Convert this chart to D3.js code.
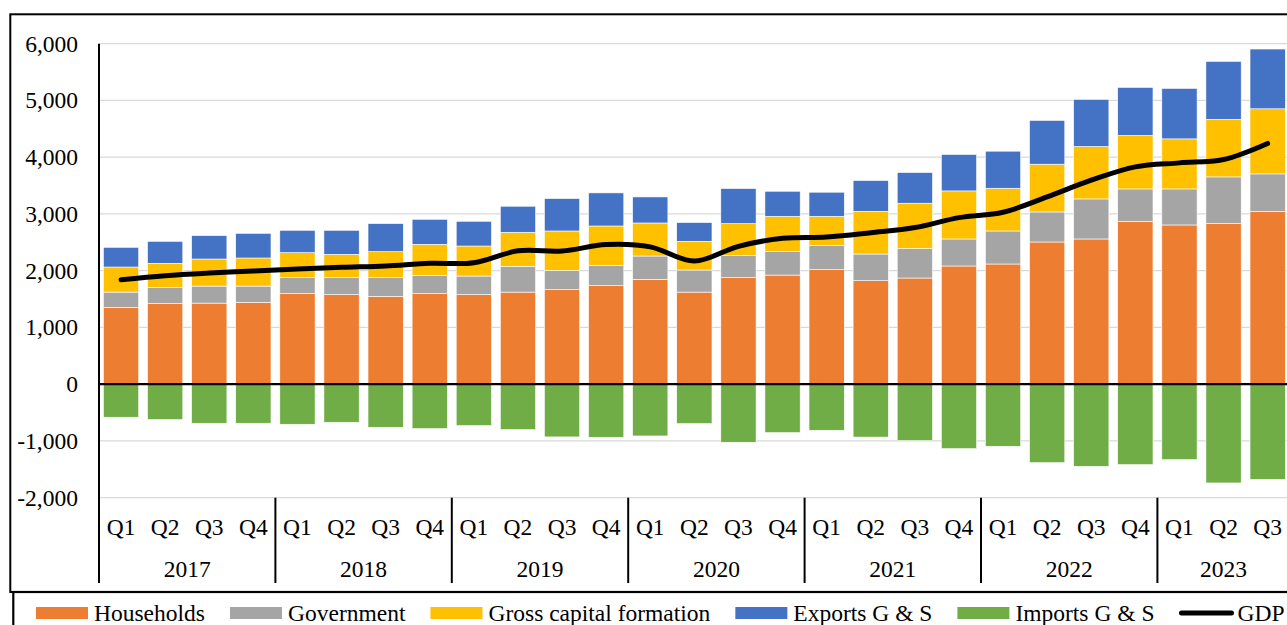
<!DOCTYPE html>
<meta charset="utf-8">
<head>
 <title>GDP by expenditure</title>
</head>

<style>
body { margin: 0; background: #fff; }
text {
 font-family: "Liberation Serif", "Times New Roman", serif;
 font-size: 23.5px;
 fill: #000;
}
</style>

<body>
 <svg width="1287" height="625"></svg>

 <script src="https://cdn.jsdelivr.net/npm/d3@7"></script>
 <script>
// quarterly data
var years = ["2017", "2018", "2019", "2020", "2021", "2022", "2023"]
var quarters = ["Q1", "Q2", "Q3", "Q4"]

var households = [1353, 1419, 1429, 1442, 1595, 1578, 1548, 1595, 1578, 1623, 1666, 1736, 1848, 1623,
  1877, 1923, 2018, 1824, 1871, 2083, 2118, 2506, 2559, 2866, 2806, 2830, 3042]
var government = [270, 282, 300, 287, 282, 299, 329, 323, 328, 454, 340, 359, 411, 389,
  389, 419, 429, 470, 518, 476, 582, 529, 706, 575, 635, 823, 664]
var capital = [442, 429, 477, 495, 441, 412, 459, 547, 529, 600, 694, 693, 582, 506,
  564, 617, 512, 753, 800, 847, 753, 842, 924, 942, 882, 1013, 1147]
var exports = [347, 388, 413, 435, 394, 423, 494, 441, 436, 459, 571, 583, 459, 330,
  618, 441, 424, 542, 541, 642, 653, 771, 830, 847, 889, 1023, 1053]
var imports = [-582, -623, -688, -688, -706, -671, -759, -782, -729, -800, -929, -935, -912, -694,
  -1023, -853, -812, -932, -994, -1135, -1094, -1382, -1447, -1417, -1329, -1740, -1676]
var gdp = [1842, 1913, 1959, 1994, 2030, 2059, 2083, 2130, 2140, 2350, 2347, 2460, 2420, 2170,
  2430, 2570, 2594, 2670, 2760, 2935, 3030, 3300, 3594, 3830, 3900, 3960, 4242]

var yTicks = [-2000, -1000, 0, 1000, 2000, 3000, 4000, 5000, 6000]

var keys = ["Households", "Government", "Gross capital formation", "Exports G & S", "Imports G & S"]
var colors = {
  "Households": "#ED7D31",
  "Government": "#A5A5A5",
  "Gross capital formation": "#FFC000",
  "Exports G & S": "#4472C4",
  "Imports G & S": "#70AD47"
}

var serif = '"Liberation Serif", "Times New Roman", serif'

// categories: year + quarter (last year only has 3 quarters)
var cats = []
years.forEach(function(yr) {
  quarters.forEach(function(q) {
    if (cats.length < households.length) cats.push({year: yr, q: q})
  })
})

var rows = cats.map(function(c, i) {
  return {
    "Households": households[i],
    "Government": government[i],
    "Gross capital formation": capital[i],
    "Exports G & S": exports[i],
    "Imports G & S": imports[i]
  }
})

var svg = d3.select("svg")

var left = 99, step = 44.1
var x = d3.scaleBand()
  .domain(d3.range(cats.length))
  .range([left, left + step * cats.length])
  .paddingInner(0.2)
  .paddingOuter(0.1)

var y = d3.scaleLinear().domain([-2000, 6000]).range([497.7, 43.7])

var plotRight = left + step * cats.length
var axisBottom = 583

// outer chart border + legend box
svg.append("rect")
  .attr("x", 10.3).attr("y", 14.3)
  .attr("width", 1400).attr("height", 577.7)
  .attr("fill", "none").attr("stroke", "#000").attr("stroke-width", 2)
svg.append("rect")
  .attr("x", 13.3).attr("y", 592)
  .attr("width", 1400).attr("height", 60)
  .attr("fill", "none").attr("stroke", "#000").attr("stroke-width", 2.2)

// gridlines
svg.append("g")
  .selectAll("line")
  .data(yTicks.filter(function(d) { return d !== 0 }))
  .enter().append("line")
  .attr("x1", left).attr("x2", plotRight)
  .attr("y1", function(d) { return y(d) })
  .attr("y2", function(d) { return y(d) })
  .attr("stroke", "#d9d9d9").attr("stroke-width", 1.3)

// y axis labels
var yAxis = d3.axisLeft(y)
  .tickValues(yTicks)
  .tickSize(0)
  .tickPadding(21)
  .tickFormat(function(d) { return d3.format(",")(d).replace("\u2212", "-") })

var ya = svg.append("g")
  .attr("transform", "translate(" + left + ",0)")
  .call(yAxis)
ya.attr("font-family", null).attr("font-size", null)
ya.select(".domain").remove()
ya.selectAll("text")
  .style("font-family", serif)
  .style("font-size", "23.5px")
  .style("fill", "#000")

// stacked bars
var series = d3.stack()
  .keys(keys)
  .offset(d3.stackOffsetDiverging)(rows)

svg.append("g")
  .selectAll("g")
  .data(series)
  .enter().append("g")
  .attr("fill", function(d) { return colors[d.key] })
  .selectAll("rect")
  .data(function(d) { return d })
  .enter().append("rect")
  .attr("x", function(d, i) { return x(i) })
  .attr("width", x.bandwidth())
  .attr("y", function(d) { return y(Math.max(d[0], d[1])) })
  .attr("height", function(d) { return Math.abs(y(d[0]) - y(d[1])) })
  .attr("stroke", "#fff")
  .attr("stroke-width", 0.6)

// zero line
svg.append("line")
  .attr("x1", left).attr("x2", plotRight)
  .attr("y1", y(0)).attr("y2", y(0))
  .attr("stroke", "#000").attr("stroke-width", 2.2)

// GDP line
var line = d3.line()
  .x(function(d, i) { return x(i) + x.bandwidth() / 2 })
  .y(function(d) { return y(d) })
  .curve(d3.curveCatmullRom.alpha(0.5))

svg.append("path")
  .datum(gdp)
  .attr("d", line)
  .attr("fill", "none")
  .attr("stroke", "#000")
  .attr("stroke-width", 5)
  .attr("stroke-linecap", "round")
  .attr("stroke-linejoin", "round")

// y axis line (runs down into the category axis)
svg.append("line")
  .attr("x1", left).attr("x2", left)
  .attr("y1", y(6000)).attr("y2", axisBottom)
  .attr("stroke", "#000").attr("stroke-width", 2)

// quarter labels
svg.append("g")
  .selectAll("text")
  .data(cats)
  .enter().append("text")
  .attr("x", function(d, i) { return x(i) + x.bandwidth() / 2 })
  .attr("y", 526.7)
  .attr("dy", "0.35em")
  .attr("text-anchor", "middle")
  .text(function(d) { return d.q })

// year groups
function boundary(i) { return x(i) + x.bandwidth() / 2 - x.step() / 2 }

var groups = years.map(function(yr, k) {
  var i0 = k * 4
  var i1 = Math.min(i0 + 4, cats.length)
  return {year: yr, x0: boundary(i0), x1: i1 < cats.length ? boundary(i1) : plotRight}
})

svg.append("g")
  .selectAll("line")
  .data(groups.slice(1))
  .enter().append("line")
  .attr("x1", function(d) { return d.x0 })
  .attr("x2", function(d) { return d.x0 })
  .attr("y1", y(-2000)).attr("y2", axisBottom)
  .attr("stroke", "#000").attr("stroke-width", 2)

svg.append("g")
  .selectAll("text")
  .data(groups)
  .enter().append("text")
  .attr("x", function(d) { return (d.x0 + d.x1) / 2 })
  .attr("y", 569)
  .attr("dy", "0.35em")
  .attr("text-anchor", "middle")
  .text(function(d) { return d.year })

// legend
var legendItems = keys.concat(["GDP"])
var lx = 36, ly = 613
legendItems.forEach(function(name) {
  var g = svg.append("g")
  if (name === "GDP") {
    g.append("line")
      .attr("x1", lx + 2).attr("x2", lx + 52)
      .attr("y1", ly).attr("y2", ly)
      .attr("stroke", "#000").attr("stroke-width", 5)
      .attr("stroke-linecap", "round")
  } else {
    g.append("rect")
      .attr("x", lx).attr("y", ly - 6)
      .attr("width", 52).attr("height", 12)
      .attr("fill", colors[name])
  }
  var t = g.append("text")
    .attr("x", lx + 58)
    .attr("y", 620.6)
    .text(name)
  lx = lx + 58 + t.node().getComputedTextLength() + 25
})

 </script>
</body>
</html>
